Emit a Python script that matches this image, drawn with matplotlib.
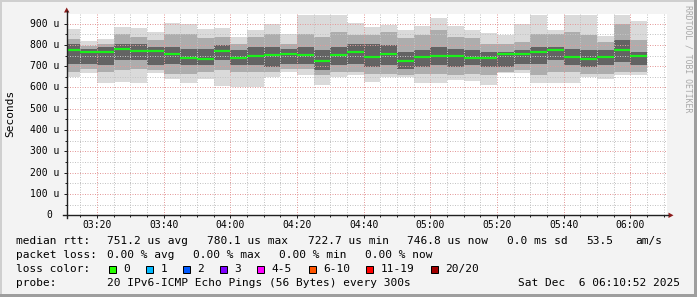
import matplotlib
matplotlib.use("Agg")
import matplotlib.pyplot as plt
from matplotlib.patches import Rectangle, Polygon
from matplotlib.lines import Line2D

W, H = 697, 297
MONO = "DejaVu Sans Mono"

# 5 minute slots, start time of each slot
slots = ["03:10", "03:15", "03:20", "03:25", "03:30", "03:35", "03:40", "03:45",
         "03:50", "03:55", "04:00", "04:05", "04:10", "04:15", "04:20", "04:25",
         "04:30", "04:35", "04:40", "04:45", "04:50", "04:55", "05:00", "05:05",
         "05:10", "05:15", "05:20", "05:25", "05:30", "05:35", "05:40", "05:45",
         "05:50", "05:55", "06:00"]

# median rtt per slot (us)
median = [775, 767, 767, 780, 773, 773, 759, 740, 735, 773, 740, 749, 754, 759, 754, 723,
          754, 767, 745, 759, 723, 745, 748, 748, 738, 738, 758, 758, 765, 775, 745, 735,
          745, 775, 748]
# smoke: outer, middle and inner ping spread (us)
ping_max = [873, 817, 827, 884, 878, 859, 902, 900, 873, 878, 837, 869, 897, 853, 941, 941,
            941, 903, 884, 892, 869, 887, 928, 889, 869, 855, 848, 900, 940, 870, 940, 940,
            842, 940, 910]
hi_mid = [826, 794, 806, 853, 837, 822, 853, 853, 830, 837, 806, 837, 853, 806, 853, 837,
          861, 845, 845, 861, 830, 845, 869, 837, 830, 806, 806, 814, 853, 853, 861, 845,
          814, 900, 822]
hi_in = [806, 783, 791, 806, 806, 791, 791, 783, 783, 798, 775, 791, 791, 783, 791, 775,
         791, 806, 806, 798, 767, 775, 791, 783, 775, 767, 767, 775, 791, 791, 783, 775,
         775, 822, 767]
lo_in = [712, 712, 705, 728, 728, 705, 712, 705, 705, 728, 705, 705, 697, 712, 712, 681,
         705, 712, 697, 705, 689, 697, 705, 697, 705, 697, 697, 712, 712, 728, 705, 697,
         705, 720, 705]
lo_mid = [673, 689, 673, 681, 689, 681, 665, 665, 673, 681, 673, 673, 673, 689, 689, 658,
          673, 673, 665, 665, 658, 665, 665, 658, 665, 658, 673, 681, 658, 673, 673, 665,
          665, 673, 673]
ping_min = [650, 669, 623, 627, 619, 666, 641, 619, 640, 608, 600, 600, 647, 672, 659, 613,
            647, 658, 628, 650, 647, 619, 619, 634, 631, 613, 666, 669, 622, 622, 622, 650,
            641, 658, 658]

xtick_labels = ["03:20", "03:40", "04:00", "04:20", "04:40", "05:00", "05:20", "05:40", "06:00"]
ytick_values = [0, 100, 200, 300, 400, 500, 600, 700, 800, 900]

loss_labels = ["0", "1", "2", "3", "4-5", "6-10", "11-19", "20/20"]
loss_colors = ["#26ff00", "#00b8ff", "#0059ff", "#7e00ff", "#ff00ff", "#ff5500", "#ff0000", "#a10000"]


def mins(t):
    h, m = t.split(":")
    return int(h) * 60 + int(m)


def fx(x):
    return x / W


def fy(y):
    return 1 - y / H


x0 = [mins(t) for t in slots]
t_start = mins("03:10") + 52 / 60
t_end = mins("06:10") + 52 / 60

fig = plt.figure(figsize=(W / 100, H / 100), dpi=100, facecolor="#f3f3f3")
L, R, T, B = 66.7, 666.7, 14, 215.3
ax = fig.add_axes([fx(L), fy(B), (R - L) / W, (B - T) / H])
ax.set_facecolor("white")
ax.set_xlim(t_start, t_end)
ax.set_ylim(0, 945)
for s in ax.spines.values():
    s.set_visible(False)

# smoke
ax.bar(x0, [a - b for a, b in zip(ping_max, ping_min)], bottom=ping_min, width=5,
       align="edge", color="#dadada", linewidth=0, zorder=1)
ax.bar(x0, [a - b for a, b in zip(hi_mid, lo_mid)], bottom=lo_mid, width=5,
       align="edge", color="#adadad", linewidth=0, zorder=1.1)
ax.bar(x0, [a - b for a, b in zip(hi_in, lo_in)], bottom=lo_in, width=5,
       align="edge", color="#636363", linewidth=0, zorder=1.2)

# grid (dotted)
dots = (0, (1, 1.5))
for m in range(mins("03:15"), mins("06:15"), 5):
    major = m % 20 == 0
    ax.axvline(m, color="#e49a9a" if major else "#c4c4c4", lw=0.72, ls=dots, zorder=2)
for v in range(50, 950, 50):
    major = v % 100 == 0
    ax.axhline(v, color="#e49a9a" if major else "#c4c4c4", lw=0.72, ls=dots, zorder=2)

# median line
ax.hlines(median, x0, [x + 5 for x in x0], color="#1af01a", lw=1.6, zorder=3)

# ticks
ax.set_xticks([mins(t) for t in xtick_labels])
ax.set_xticks(range(mins("03:15"), mins("06:15"), 5), minor=True)
ax.set_yticks(ytick_values)
ax.set_yticks(range(50, 950, 100), minor=True)
ax.tick_params(which="major", direction="out", length=2.2, width=0.72, color="#202020",
               labelbottom=False, labelleft=False)
ax.tick_params(which="minor", direction="out", length=1.2, width=0.72, color="#202020")

# axes lines and arrows
fig.add_artist(Line2D([fx(63), fx(668)], [fy(B), fy(B)], color="#202020", lw=1.0))
fig.add_artist(Line2D([fx(L), fx(L)], [fy(218), fy(11)], color="#202020", lw=1.0))
arrow = "#8b1a1a"
fig.add_artist(Polygon([(fx(668.5), fy(212.6)), (fx(673.5), fy(B)), (fx(668.5), fy(218))],
                       closed=True, color=arrow, lw=0))
fig.add_artist(Polygon([(fx(64), fy(12.5)), (fx(L), fy(7.5)), (fx(69.4), fy(12.5))],
                       closed=True, color=arrow, lw=0))

# tick labels
for v in ytick_values:
    yp = B - v / 945 * (B - T)
    if v == 0:
        fig.text(fx(52.5), fy(yp), "0", ha="right", va="center", fontsize=7, family=MONO)
    else:
        fig.text(fx(59.5), fy(yp), f"{v} u", ha="right", va="center", fontsize=7, family=MONO)
for t in xtick_labels:
    xp = L + (mins(t) - t_start) / (t_end - t_start) * (R - L)
    fig.text(fx(xp), fy(225), t, ha="center", va="center", fontsize=7, family=MONO)

fig.text(fx(10), fy(113), "Seconds", rotation=90, ha="center", va="center", fontsize=8, family=MONO)
fig.text(fx(688), fy(5), "RRDTOOL / TOBI OETIKER", rotation=270, ha="center", va="top",
         fontsize=5.9, family=MONO, color="#a8a8a8")

# legend
def put(x, y, s, ha="left"):
    fig.text(fx(x), fy(y), s, ha=ha, va="center", fontsize=8, family=MONO)


put(16, 241, "median rtt:")
put(107.3, 241, "751.2 us avg")
put(207.3, 241, "780.1 us max")
put(308.5, 241, "722.7 us min")
put(406.7, 241, "746.8 us now")
put(506.7, 241, "0.0 ms sd")
put(586.7, 241, "53.5")
put(635, 241, "am/s")

put(16, 255, "packet loss:")
put(107.3, 255, "0.00 % avg")
put(193.3, 255, "0.00 % max")
put(279.3, 255, "0.00 % min")
put(365, 255, "0.00 % now")

put(16, 269, "loss color:")
box_x = [108.5, 146, 183, 219.5, 257, 308.5, 366, 431]
for bx, lab, col in zip(box_x, loss_labels, loss_colors):
    fig.add_artist(Rectangle((fx(bx), fy(272.5)), 7 / W, 7 / H, facecolor=col,
                             edgecolor="black", lw=0.72))
    put(bx + 14.3, 269, lab)

put(16, 283, "probe:")
put(107.3, 283, "20 IPv6-ICMP Echo Pings (56 Bytes) every 300s")
put(680, 283, "Sat Dec  6 06:10:52 2025", ha="right")

# frame
fig.add_artist(Rectangle((0, fy(2)), 1, 2 / H, color="#cfcfcf", lw=0))
fig.add_artist(Rectangle((0, 0), 2 / W, 1, color="#cfcfcf", lw=0))
fig.add_artist(Rectangle((fx(694), 0), 3 / W, 1, color="#9e9e9e", lw=0))
fig.add_artist(Rectangle((0, 0), 1, 3 / H, color="#9e9e9e", lw=0))

fig.savefig("out.png", dpi=100, facecolor=fig.get_facecolor())
